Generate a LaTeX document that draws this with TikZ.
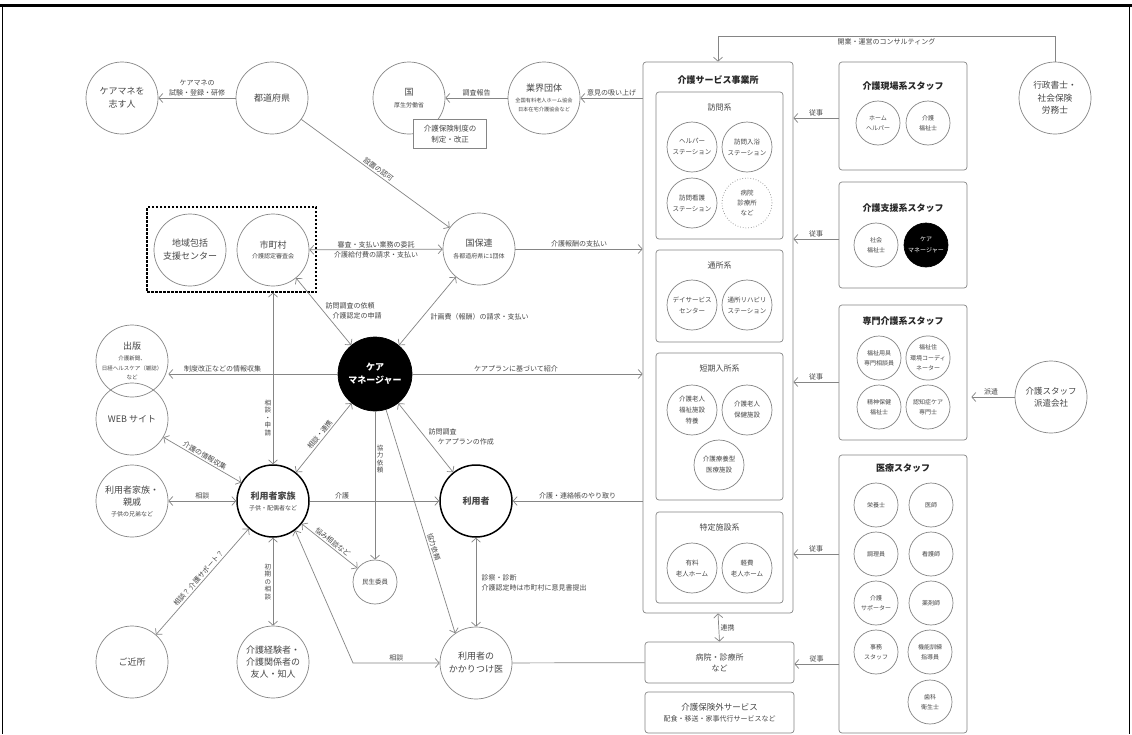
\documentclass[tikz,border=0pt]{standalone}
\usepackage{fontspec}
\setmainfont{Noto Sans CJK JP}
\usetikzlibrary{arrows.meta, calc, positioning}

\definecolor{linegray}{gray}{0.52}
\definecolor{textgray}{gray}{0.28}
\newcommand{\fsz}[2]{\fontsize{#1}{#2}\selectfont}

\tikzset{
    circ/.style={circle, draw=linegray, line width=0.7pt, minimum size=72pt, inner sep=0pt, align=center, text=textgray, font=\fsz{9}{13}},
    thickcirc/.style={circ, draw=black, line width=1.5pt},
    blackcirc/.style={circ, fill=black, draw=black, text=white, font=\bfseries\fsz{9}{13}},
    subcirc/.style={circ, minimum size=50pt, font=\fsz{6.5}{11}},
    staffcirc/.style={circ, minimum size=44pt, font=\fsz{6}{10.5}},
    panel/.style={draw=linegray, line width=0.7pt, rounded corners=3pt, inner sep=0pt},
    ttl/.style={text=black!85, font=\bfseries\fsz{9}{12}},
    subttl/.style={text=textgray, font=\fsz{8}{10}},
    lbl/.style={text=textgray, font=\fsz{7}{10}, inner sep=1.5pt},
    vlbl/.style={text=textgray, font=\fsz{6.5}{7.5}, align=center, inner sep=1.5pt},
    conn/.style={draw=linegray, line width=0.7pt, -{Straight Barb[length=4pt,width=9pt]}},
    dconn/.style={conn, {Straight Barb[length=4pt,width=9pt]}-{Straight Barb[length=4pt,width=9pt]}},
}

\begin{document}
\begin{tikzpicture}[x=1pt, y=-1pt]
    \fill[white] (0, 0) rectangle (1132, 734);
    \useasboundingbox (0, 0) rectangle (1132, 734);
    \draw[line width=3pt] (0, 5) -- (1132, 5);
    \draw[line width=1pt] (2.5, 5) -- (2.5, 734) (1129.5, 5) -- (1129.5, 734);

    \node[circ] (aspirant) at (122, 98) {ケアマネを\\志す人};
    \node[circ] (pref) at (272, 98) {都道府県};
    \node[circ] (kuni) at (409, 98) {国\\[-1pt]{\fsz{6}{8}厚生労働省}};
    \node[draw=linegray, fill=white, line width=0.7pt, minimum width=73pt, minimum height=29pt, inner sep=0pt, align=center, text=textgray, font=\fsz{7.5}{11}] (seido) at (450, 134) {介護保険制度の\\制定・改正};
    \node[circ] (gyokai) at (544, 98) {業界団体\\[-2pt]{\fsz{5.2}{7}全国有料老人ホーム協会}\\[-4pt]{\fsz{5.2}{7}日本在宅介護協会など}};

    \node[draw=black, line width=1.1pt, dash pattern=on 2.5pt off 1.5pt, minimum width=169pt, minimum height=85pt] (region) at (231.5, 249.5) {};
    \node[circ] (hokatsu) at (190, 250) {地域包括\\支援センター};
    \node[circ] (mura) at (273, 250) {市町村\\[-3pt]{\fsz{6}{8}介護認定審査会}};
    \node[circ] (kokuho) at (479, 249) {国保連\\[-1pt]{\fsz{6}{8}各都道府県に1団体}};
    \node[blackcirc, minimum size=74pt] (cm) at (375, 374) {ケア\\マネージャー};

    \node[circ] (pub) at (132, 361) {出版\\[-2pt]{\fsz{5.5}{7}介護新聞、}\\[-3pt]{\fsz{5.5}{7}日経ヘルスケア（雑誌）}\\[-4pt]{\fsz{5.5}{7}など}};
    \node[circ] (web) at (132, 419) {WEB サイト};
    \node[circ] (relative) at (132, 501) {利用者家族・\\[-1pt]親戚\\[-2pt]{\fsz{6}{8}子供の兄弟など}};
    \node[thickcirc, font=\bfseries\fsz{9}{13}] (family) at (273, 501) {利用者家族\\[-2pt]{\mdseries\fsz{6}{8}子供・配偶者など}};
    \node[thickcirc, font=\bfseries\fsz{9}{13}] (user) at (476, 501) {利用者};
    \node[circ, minimum size=44pt, font=\fsz{6.5}{9}] (minsei) at (375, 582) {民生委員};
    \node[circ] (neighbor) at (132, 662) {ご近所};
    \node[circ, font=\fsz{9}{12}] (friend) at (273, 662) {介護経験者・\\介護関係者の\\友人・知人};
    \node[circ] (doctor) at (476, 663) {利用者の\\かかりつけ医};

    \node[panel, minimum width=150pt, minimum height=551pt] (svc) at (718, 337.5) {};
    \node[ttl] (svcttl) at (718, 80) {介護サービス事業所};
    \node[panel, minimum width=127pt, minimum height=147pt] (houmon) at (719.5, 165.5) {};
    \node[subttl] (houmonttl) at (719.5, 107) {訪問系};
    \node[subcirc] (helper) at (692, 147) {ヘルパー\\ステーション};
    \node[subcirc] (nyuyoku) at (747, 147) {訪問入浴\\ステーション};
    \node[subcirc] (kango) at (692, 203) {訪問看護\\ステーション};
    \node[subcirc, dotted, font=\fsz{6.5}{10}] (byoin) at (747, 203) {病院\\診療所\\など};
    \node[panel, minimum width=127pt, minimum height=92pt] (tsusho) at (719.5, 296) {};
    \node[subttl] (tsushottl) at (719.5, 266) {通所系};
    \node[subcirc] (day) at (692, 305) {デイサービス\\センター};
    \node[subcirc] (reha) at (747, 305) {通所リハビリ\\ステーション};
    \node[panel, minimum width=127pt, minimum height=147pt] (tanki) at (719.5, 426.5) {};
    \node[subttl] (tankittl) at (719.5, 368) {短期入所系};
    \node[subcirc] (tokuyo) at (692, 410) {介護老人\\福祉施設\\特養};
    \node[subcirc] (roken) at (747, 410) {介護老人\\保健施設};
    \node[subcirc] (ryoyo) at (719, 465) {介護療養型\\医療施設};
    \node[panel, minimum width=127pt, minimum height=91pt] (tokutei) at (719.5, 557.5) {};
    \node[subttl] (tokuteittl) at (719.5, 527) {特定施設系};
    \node[subcirc] (yuryo) at (692, 568) {有料\\老人ホーム};
    \node[subcirc] (keihi) at (747, 568) {軽費\\老人ホーム};
    \node[panel, minimum width=149pt, minimum height=41pt, align=center, text=textgray, font=\fsz{8}{11}] (hosp) at (719.5, 662.5) {病院・診療所\\など};
    \node[panel, minimum width=149pt, minimum height=41pt, align=center, text=textgray, font=\fsz{8.5}{12}] (gai) at (719.5, 712.5) {介護保険外サービス\\[-1pt]{\fsz{7}{9}配食・移送・家事代行サービスなど}};

    \node[panel, minimum width=128pt, minimum height=108pt] (genba) at (903, 116) {};
    \node[ttl] (genbattl) at (903, 86) {介護現場系スタッフ};
    \node[staffcirc] (homehelper) at (878, 123) {ホーム\\ヘルパー};
    \node[staffcirc] (kaifuku) at (928, 123) {介護\\福祉士};
    \node[panel, minimum width=128pt, minimum height=106pt] (shien) at (903, 235) {};
    \node[ttl] (shienttl) at (903, 208) {介護支援系スタッフ};
    \node[staffcirc] (shafuku) at (876, 245) {社会\\福祉士};
    \node[blackcirc, minimum size=44pt, font=\fsz{6}{10.5}] (cmstaff) at (926, 245) {ケア\\マネージャー};
    \node[panel, minimum width=128pt, minimum height=135pt] (senmon) at (903, 372.5) {};
    \node[ttl] (senmonttl) at (903, 321) {専門介護系スタッフ};
    \node[staffcirc] (yogu) at (879, 358) {福祉用具\\専門相談員};
    \node[staffcirc] (jukankyo) at (928, 358) {福祉住\\環境コーディ\\ネーター};
    \node[staffcirc] (seishin) at (879, 407) {精神保健\\福祉士};
    \node[staffcirc] (ninchi) at (928, 407) {認知症ケア\\専門士};
    \node[panel, minimum width=128pt, minimum height=278pt] (iryo) at (903, 594) {};
    \node[ttl] (iryottl) at (903, 468) {医療スタッフ};
    \foreach \name/\txt/\x/\y in {eiyo/栄養士/876/505, ishi/医師/931/505, chori/調理員/876/554, kangoshi/看護師/931/554, kaigosup/{介護\\サポーター}/876/603, yakuzai/薬剤師/931/603, jimu/{事務\\スタッフ}/876/652, kunren/{機能訓練\\指導員}/930/652, shika/{歯科\\衛生士}/930/702} {
        \node[staffcirc] (\name) at (\x, \y) {\txt};
    }

    \node[circ, font=\fsz{8.7}{12.5}] (gyosei) at (1055, 98) {行政書士・\\社会保険\\労務士};
    \node[circ, font=\fsz{8.5}{12}] (haken) at (1051, 397) {介護スタッフ\\派遣会社};

    \draw[conn] (pref) -- node[lbl, above, align=center] {ケアマネの\\試験・登録・研修} (aspirant);
    \draw[conn] (gyokai) -- node[lbl, above] {調査報告} (kuni);
    \draw[conn] (svc.west |- gyokai) -- node[lbl, above] {意見の吸い上げ} (gyokai);
    \draw[conn] (gyosei.north) -- ++(0, -25) -| node[lbl, below, pos=0.25] {開業・運営のコンサルティング} (svc.north);
    \draw[conn] (pref) -- node[lbl, above, sloped] {設置の認可} (kokuho);
    \draw[dconn] (mura) -- node[lbl, above] {審査・支払い業務の委託} node[lbl, below] {介護給付費の請求・支払い} (kokuho);
    \draw[conn] (kokuho) -- node[lbl, above] {介護報酬の支払い} (kokuho -| svc.west);
    \draw[dconn] (mura) -- (cm);
    \node[lbl, align=left, anchor=west] (lmura) at (324, 311) {訪問調査の依頼\\\hspace*{1em}介護認定の申請};
    \draw[dconn] (kokuho) -- (cm);
    \node[lbl, anchor=west] (lkeikaku) at (429, 317) {計画費（報酬）の請求・支払い};
    \draw[conn] (cm) -- node[lbl, above, pos=0.45] {ケアプランに基づいて紹介} (cm -| svc.west);
    \draw[conn] (cm) -- node[lbl, above, pos=0.68] {制度改正などの情報収集} (cm -| pub.east);

    \draw[dconn] (family.north) -- node[vlbl, left, pos=0.27] {相\\談\\・\\申\\請} (family.north |- region.south);
    \draw[dconn] (web) -- node[lbl, above, sloped] {介護の情報収集} (family);
    \draw[dconn] (relative) -- node[lbl, above] {相談} (family);
    \draw[dconn] (family) -- node[lbl, above, sloped] {相談・連携} (cm);
    \draw[conn] (cm) -- node[vlbl, right, pos=0.32] {協\\力\\依\\頼} (minsei);
    \draw[dconn] (family) -- node[lbl, above, sloped] {悩み相談など} (minsei);
    \draw[conn] (family) -- node[lbl, above, pos=0.25] {介護} (user);
    \draw[dconn] (cm) -- (user);
    \node[lbl, align=left, anchor=west] (lhoumon) at (427, 437) {訪問調査\\\hspace*{1.3em}ケアプランの作成};
    \draw[conn] (cm) -- node[lbl, above, sloped, pos=0.62] {協力依頼} (doctor.125);
    \draw[dconn] (user) -- (doctor);
    \node[lbl, align=left, anchor=west] (lshinsatsu) at (480, 583) {診察・診断\\介護認定時は市町村に意見書提出};
    \draw[conn] (user -| svc.west) -- node[lbl, above] {介護・連絡帳のやり取り} (user);
    \draw[dconn] (family) -- node[vlbl, left] {初\\期\\の\\相\\談} (friend);
    \draw[dconn] (family) -- node[lbl, above, sloped] {相談？ 介護サポート？} (neighbor);
    \coordinate (bend) at (353, 663);
    \draw[dconn] (family.-53) -- (bend) -- node[lbl, above] {相談} (bend -| doctor.west);
    \draw[draw=linegray, line width=0.7pt] (doctor) -- (hosp);
    \draw[dconn] (svc.south) -- node[lbl, right] {連携} (hosp.north);

    \foreach \staff/\target/\dy in {genba/svc/-2, shien/svc/-4, senmon/svc/-9.5, iryo/svc/40, iryo/hosp/-70} {
        \draw[conn] ([yshift=\dy pt]\staff.west) -- node[lbl, above] {従事} ([yshift=\dy pt]\staff.west -| \target.east);
    }
    \draw[conn, shorten >=4pt] (haken) -- node[lbl, above] {派遣} (haken -| senmon.east);
\end{tikzpicture}
\end{document}
